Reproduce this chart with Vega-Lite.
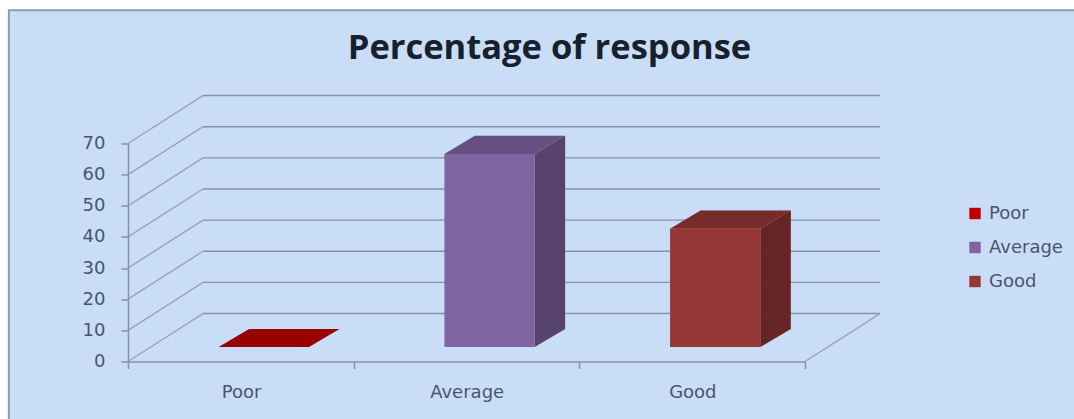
{
  "$schema": "https://vega.github.io/schema/vega-lite/v6.json",
  "width": 677,
  "height": 218,
  "autosize": {"type": "none"},
  "padding": {"left": 128, "top": 143.5, "right": 269, "bottom": 57.5},
  "background": "#ffffff",
  "title": {
    "text": "Percentage of response",
    "font": "Open Sans",
    "fontWeight": "bold",
    "fontSize": 34.5,
    "color": "#17212e",
    "anchor": "middle",
    "dx": 83,
    "offset": -57
  },
  "config": {
    "view": {"stroke": null},
    "axis": {
      "labelFont": "DejaVu Sans",
      "labelFontSize": 18,
      "labelColor": "#46566e",
      "domainColor": "#8592a8",
      "tickColor": "#8592a8",
      "domainWidth": 1.5,
      "tickWidth": 1.5,
      "tickSize": 7,
      "grid": false,
      "title": null
    },
    "legend": {"labelFont": "DejaVu Sans", "labelFontSize": 18, "labelColor": "#46566e"}
  },
  "datasets": {
    "responses": [
      {"category": "Poor", "position": 0, "value": 0},
      {"category": "Average", "position": 1, "value": 62},
      {"category": "Good", "position": 2, "value": 38}
    ],
    "ticks": [
      {"tick": 0}, {"tick": 10}, {"tick": 20}, {"tick": 30},
      {"tick": 40}, {"tick": 50}, {"tick": 60}, {"tick": 70}
    ]
  },
  "encoding": {
    "x": {
      "type": "quantitative",
      "scale": {"domain": [0, 3], "nice": false, "zero": false},
      "axis": {
        "values": [0, 1, 2, 3],
        "labelExpr": "datum.value == 0 ? 'Poor' : datum.value == 1 ? 'Average' : datum.value == 2 ? 'Good' : ''",
        "labelOffset": 113,
        "labelPadding": 15,
        "labelFlush": false,
        "labelOverlap": false,
        "orient": "bottom",
        "zindex": 1
      }
    },
    "y": {
      "type": "quantitative",
      "scale": {"domain": [0, 70], "nice": false, "zero": false},
      "axis": {
        "values": [0, 10, 20, 30, 40, 50, 60, 70],
        "labelPadding": 16,
        "labelOverlap": false,
        "labelFlush": false,
        "orient": "left",
        "zindex": 1
      }
    }
  },
  "layer": [
    {
      "description": "Chart panel behind the plot, bordered on its top and left",
      "data": {"values": [{"panel": "chart"}]},
      "transform": [
        {"calculate": "-0.528", "as": "xLeft"},
        {"calculate": "4.25", "as": "xRight"},
        {"calculate": "112.8", "as": "yTop"},
        {"calculate": "-20", "as": "yBottom"}
      ],
      "mark": {"type": "rect", "fill": "#c9ddf6", "stroke": "#8c9ab6", "strokeWidth": 2},
      "encoding": {
        "x": {"field": "xLeft"},
        "x2": {"field": "xRight"},
        "y": {"field": "yTop"},
        "y2": {"field": "yBottom"}
      }
    },
    {
      "description": "Side wall gridlines running back from the value axis",
      "data": {"name": "ticks"},
      "transform": [
        {"calculate": "0.3323", "as": "xBack"},
        {"calculate": "0", "as": "xFront"},
        {"calculate": "datum.tick + 15.4", "as": "yBack"}
      ],
      "mark": {"type": "rule", "color": "#98a4b8", "strokeWidth": 1.4},
      "encoding": {
        "x": {"field": "xFront"},
        "x2": {"field": "xBack"},
        "y": {"field": "tick"},
        "y2": {"field": "yBack"}
      }
    },
    {
      "description": "Back wall gridlines",
      "data": {"name": "ticks"},
      "transform": [
        {"calculate": "0.3323", "as": "xLeft"},
        {"calculate": "3.3323", "as": "xRight"},
        {"calculate": "datum.tick + 15.4", "as": "yBack"}
      ],
      "mark": {"type": "rule", "color": "#8592a8", "strokeWidth": 1.4},
      "encoding": {
        "x": {"field": "xLeft"},
        "x2": {"field": "xRight"},
        "y": {"field": "yBack"}
      }
    },
    {
      "description": "Right edge of the floor",
      "data": {"values": [{"tick": 0}]},
      "transform": [
        {"calculate": "3", "as": "xFront"},
        {"calculate": "3.3323", "as": "xBack"},
        {"calculate": "15.4", "as": "yBack"}
      ],
      "mark": {"type": "rule", "color": "#98a4b8", "strokeWidth": 1.4},
      "encoding": {
        "x": {"field": "xFront"},
        "x2": {"field": "xBack"},
        "y": {"field": "tick"},
        "y2": {"field": "yBack"}
      }
    },
    {
      "description": "Side face of each bar",
      "data": {"name": "responses"},
      "transform": [
        {"calculate": "[0, 1]", "as": "depth"},
        {"flatten": ["depth"]},
        {"calculate": "datum.position + 0.802 + datum.depth * 0.135", "as": "xEdge"},
        {"calculate": "datum.value + 4.65 + datum.depth * 5.8", "as": "yTop"},
        {"calculate": "4.65 + datum.depth * 5.8", "as": "yBase"}
      ],
      "mark": {"type": "area", "orient": "vertical"},
      "encoding": {
        "x": {"field": "xEdge"},
        "y": {"field": "yTop"},
        "y2": {"field": "yBase"},
        "color": {
          "field": "category",
          "type": "nominal",
          "scale": {"domain": ["Poor", "Average", "Good"], "range": ["#c00000", "#8064a2", "#953735"]},
          "legend": {
            "title": null,
            "orient": "none",
            "legendX": 838,
            "legendY": 61,
            "symbolType": "square",
            "symbolSize": 130,
            "symbolStrokeWidth": 0,
            "rowPadding": 16,
            "labelOffset": 5
          }
        }
      }
    },
    {
      "description": "Darkening over the side faces",
      "data": {"name": "responses"},
      "transform": [
        {"calculate": "[0, 1]", "as": "depth"},
        {"flatten": ["depth"]},
        {"calculate": "datum.position + 0.802 + datum.depth * 0.135", "as": "xEdge"},
        {"calculate": "datum.value + 4.65 + datum.depth * 5.8", "as": "yTop"},
        {"calculate": "4.65 + datum.depth * 5.8", "as": "yBase"}
      ],
      "mark": {"type": "area", "orient": "vertical", "color": "#000000", "opacity": 0.32},
      "encoding": {
        "x": {"field": "xEdge"},
        "y": {"field": "yTop"},
        "y2": {"field": "yBase"},
        "detail": {"field": "category"}
      }
    },
    {
      "description": "Top face of each bar",
      "data": {"name": "responses"},
      "transform": [
        {"calculate": "[0, 1]", "as": "depth"},
        {"flatten": ["depth"]},
        {"calculate": "datum.position + 0.402 + datum.depth * 0.135", "as": "xLeft"},
        {"calculate": "datum.position + 0.802 + datum.depth * 0.135", "as": "xRight"},
        {"calculate": "datum.value + 4.65 + datum.depth * 5.8", "as": "yEdge"}
      ],
      "mark": {"type": "area", "orient": "horizontal"},
      "encoding": {
        "x": {"field": "xLeft"},
        "x2": {"field": "xRight"},
        "y": {"field": "yEdge"},
        "color": {"field": "category", "type": "nominal"}
      }
    },
    {
      "description": "Darkening over the top faces",
      "data": {"name": "responses"},
      "transform": [
        {"calculate": "[0, 1]", "as": "depth"},
        {"flatten": ["depth"]},
        {"calculate": "datum.position + 0.402 + datum.depth * 0.135", "as": "xLeft"},
        {"calculate": "datum.position + 0.802 + datum.depth * 0.135", "as": "xRight"},
        {"calculate": "datum.value + 4.65 + datum.depth * 5.8", "as": "yEdge"}
      ],
      "mark": {"type": "area", "orient": "horizontal", "color": "#000000", "opacity": 0.2},
      "encoding": {
        "x": {"field": "xLeft"},
        "x2": {"field": "xRight"},
        "y": {"field": "yEdge"},
        "detail": {"field": "category"}
      }
    },
    {
      "description": "Front face of each bar",
      "data": {"name": "responses"},
      "transform": [
        {"calculate": "datum.position + 0.402", "as": "xLeft"},
        {"calculate": "datum.position + 0.802", "as": "xRight"},
        {"calculate": "datum.value + 4.65", "as": "yTop"},
        {"calculate": "4.65", "as": "yBase"}
      ],
      "mark": {"type": "rect"},
      "encoding": {
        "x": {"field": "xLeft"},
        "x2": {"field": "xRight"},
        "y": {"field": "yTop"},
        "y2": {"field": "yBase"},
        "color": {"field": "category", "type": "nominal"}
      }
    }
  ]
}
